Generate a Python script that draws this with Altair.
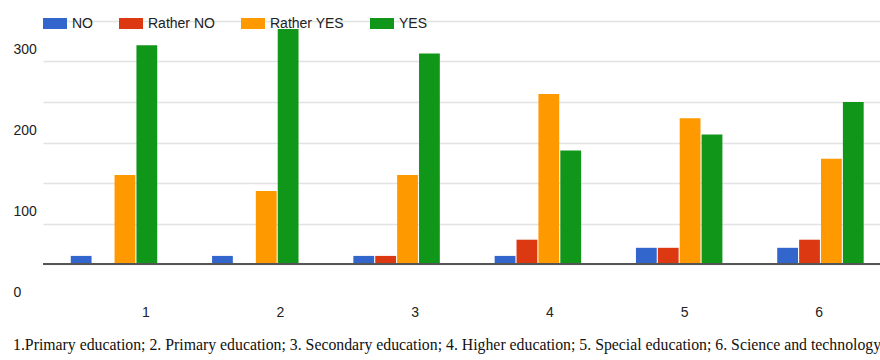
import altair as alt
import pandas as pd

# Survey answers per education area (groups 1-6)
groups = ["1", "2", "3", "4", "5", "6"]
answers = ["NO", "Rather NO", "Rather YES", "YES"]
no_counts = [10, 10, 10, 10, 20, 20]
rather_no_counts = [0, 0, 10, 30, 20, 30]
rather_yes_counts = [110, 90, 110, 210, 180, 130]
yes_counts = [270, 290, 260, 140, 160, 200]

colors = ["#3366cc", "#dc3912", "#ff9900", "#109618"]
y_ticks = [0, 50, 100, 150, 200, 250, 300]
footnote = ("1.Primary education; 2. Primary education; 3. Secondary education; "
            "4. Higher education; 5. Special education; 6. Science and technology")

rows = []
for answer, values in zip(answers, [no_counts, rather_no_counts, rather_yes_counts, yes_counts]):
    for g, v in zip(groups, values):
        rows.append({"group": g, "answer": answer, "count": v})
df = pd.DataFrame(rows)

labels_df = pd.DataFrame({"group": groups, "pos": list(range(1, len(groups) + 1))})
note_df = pd.DataFrame({"text": [footnote]})
base_df = pd.DataFrame({"v": [0]})

SANS = "Liberation Sans, Arial, sans-serif"
SERIF = "Liberation Serif, Times New Roman, serif"

bars = alt.Chart(df).mark_bar().encode(
    x=alt.X("group:N", sort=groups, axis=None,
            scale=alt.Scale(paddingInner=0.388, paddingOuter=0.156, align=0.63, round=False)),
    xOffset=alt.XOffset("answer:N", sort=answers,
                        scale=alt.Scale(paddingInner=0.05, paddingOuter=0)),
    y=alt.Y("count:Q", scale=alt.Scale(domain=[0, 300], nice=False),
            axis=alt.Axis(values=y_ticks, title=None, domain=False, ticks=False, tickSize=0,
                          labelAlign="left", labelPadding=30, labelOffset=28,
                          labelExpr="datum.value % 100 == 0 ? datum.label : ''",
                          labelFont=SANS, labelFontSize=14, labelColor="#222",
                          gridColor="#e2e2e2", gridWidth=1.5)),
    color=alt.Color("answer:N", sort=answers,
                    scale=alt.Scale(domain=answers, range=colors),
                    legend=alt.Legend(orient="none", legendX=0, legendY=-9.5,
                                      direction="horizontal", title=None,
                                      symbolType="M-1,-0.458H1V0.458H-1Z", symbolSize=576,
                                      symbolStrokeWidth=0, symbolOpacity=1,
                                      labelFont=SANS, labelFontSize=14, labelColor="#222",
                                      labelOffset=5, columnPadding=26, padding=0)),
)

baseline = alt.Chart(base_df).mark_rule(color="#555555", strokeWidth=2).encode(
    y=alt.Y("v:Q")
)

group_labels = alt.Chart(labels_df).mark_text(
    font=SANS, fontSize=14, color="#222", baseline="middle"
).encode(
    x=alt.X("pos:Q", scale=alt.Scale(domain=[0.237, 6.451], nice=False, zero=False), axis=None),
    y=alt.value(292),
    text="group:N",
)

note = alt.Chart(note_df).mark_text(
    font=SERIF, fontSize=15.8, color="#111", align="left", baseline="middle"
).encode(
    x=alt.value(-30),
    y=alt.value(324),
    text="text:N",
)

chart = alt.layer(bars, baseline, group_labels, note).resolve_scale(
    x="independent"
).properties(
    width=837,
    height=243,
    autosize="none",
    padding={"left": 43, "top": 21, "right": 0, "bottom": 96},
).configure_view(stroke=None)

chart.save("out.html", embed_options={"renderer": "svg", "actions": False})
